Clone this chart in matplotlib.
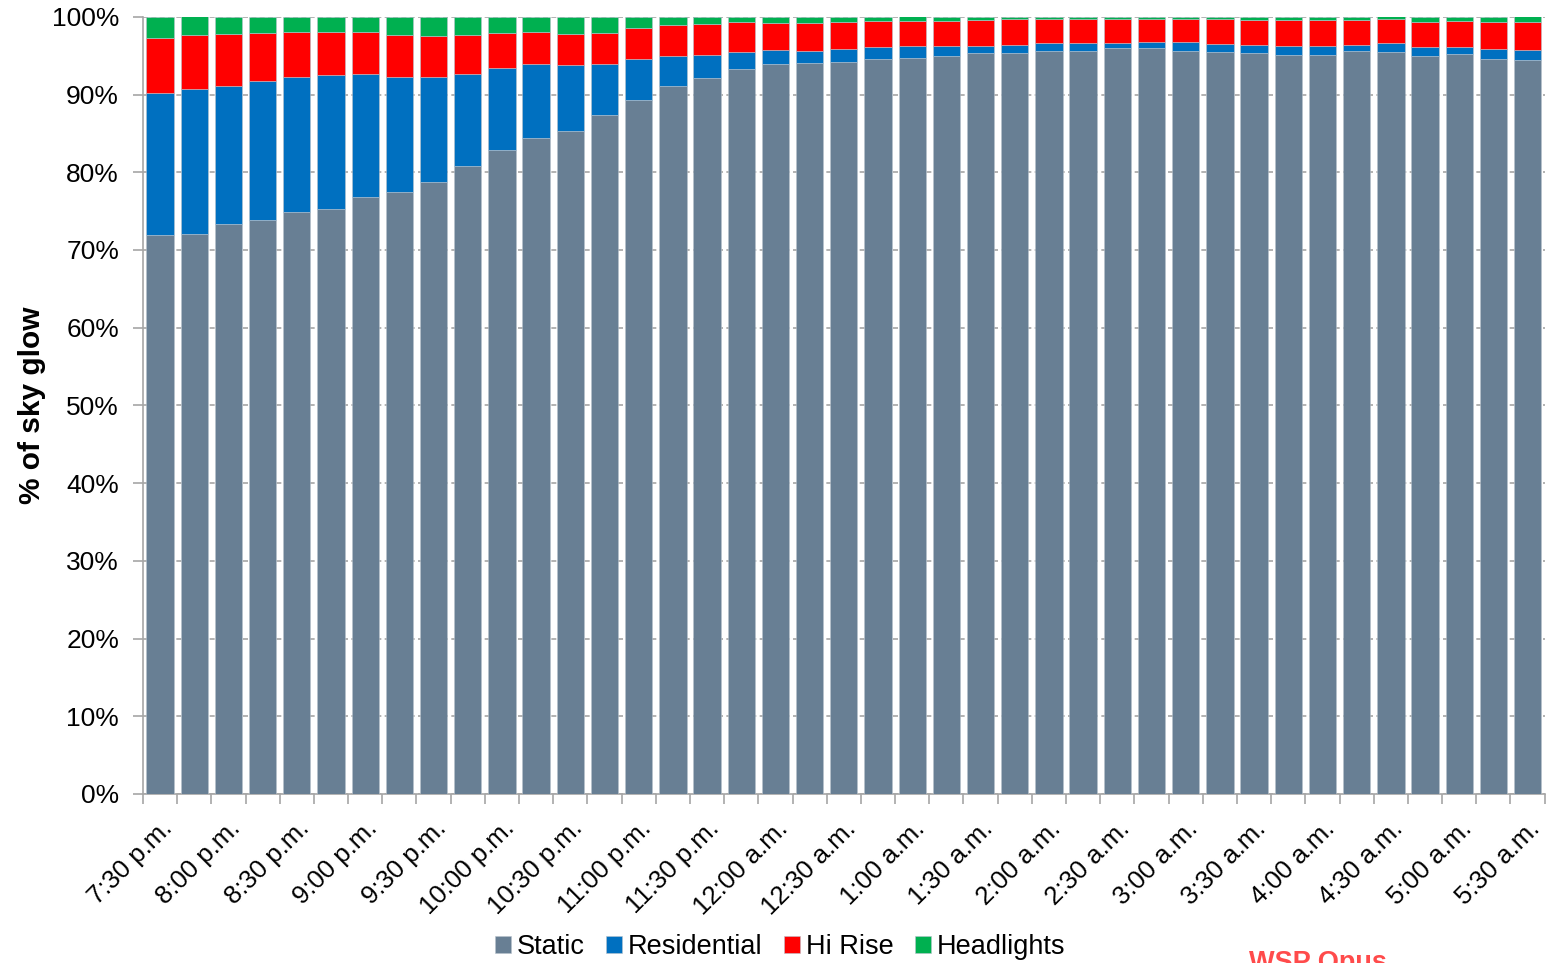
import matplotlib
matplotlib.use("Agg")
import matplotlib.pyplot as plt
import numpy as np

plt.rcParams['font.family'] = ['Liberation Sans', 'DejaVu Sans']

# quarter-hour samples, 7:30 p.m. to 5:30 a.m. (labels every half hour)
times = ["7:30 p.m.", "7:45 p.m.", "8:00 p.m.", "8:15 p.m.", "8:30 p.m.", "8:45 p.m.",
         "9:00 p.m.", "9:15 p.m.", "9:30 p.m.", "9:45 p.m.", "10:00 p.m.", "10:15 p.m.",
         "10:30 p.m.", "10:45 p.m.", "11:00 p.m.", "11:15 p.m.", "11:30 p.m.", "11:45 p.m.",
         "12:00 a.m.", "12:15 a.m.", "12:30 a.m.", "12:45 a.m.", "1:00 a.m.", "1:15 a.m.",
         "1:30 a.m.", "1:45 a.m.", "2:00 a.m.", "2:15 a.m.", "2:30 a.m.", "2:45 a.m.",
         "3:00 a.m.", "3:15 a.m.", "3:30 a.m.", "3:45 a.m.", "4:00 a.m.", "4:15 a.m.",
         "4:30 a.m.", "4:45 a.m.", "5:00 a.m.", "5:15 a.m.", "5:30 a.m."]

static = [71.9, 72.1, 73.4, 73.9, 74.9, 75.3, 76.8, 77.4, 78.7, 80.8, 82.9, 84.4,
          85.3, 87.4, 89.3, 91.1, 92.1, 93.3, 93.9, 94.0, 94.2, 94.6, 94.7, 94.9,
          95.3, 95.3, 95.6, 95.6, 96.0, 96.0, 95.6, 95.5, 95.3, 95.1, 95.1, 95.6,
          95.5, 94.9, 95.2, 94.6, 94.4]
residential = [18.3, 18.6, 17.7, 17.8, 17.3, 17.2, 15.9, 14.9, 13.5, 11.9, 10.5, 9.5,
               8.5, 6.5, 5.3, 3.9, 3.0, 2.2, 1.8, 1.6, 1.7, 1.5, 1.5, 1.3,
               1.0, 1.1, 1.0, 1.0, 0.6, 0.7, 1.1, 1.0, 1.1, 1.2, 1.2, 0.8,
               1.1, 1.2, 0.9, 1.3, 1.3]
hi_rise = [7.1, 7.0, 6.7, 6.2, 5.8, 5.6, 5.3, 5.4, 5.3, 5.0, 4.5, 4.1,
           4.0, 4.0, 4.0, 3.9, 4.0, 3.8, 3.5, 3.6, 3.4, 3.4, 3.3, 3.3,
           3.3, 3.3, 3.1, 3.1, 3.1, 3.0, 3.0, 3.2, 3.2, 3.3, 3.3, 3.2,
           3.1, 3.3, 3.4, 3.5, 3.6]
headlights = [2.7, 2.4, 2.2, 2.1, 2.0, 1.9, 2.0, 2.3, 2.5, 2.3, 2.1, 2.0,
              2.2, 2.1, 1.4, 1.1, 0.9, 0.7, 0.8, 0.8, 0.7, 0.5, 0.6, 0.5,
              0.4, 0.3, 0.3, 0.3, 0.3, 0.3, 0.3, 0.3, 0.4, 0.4, 0.4, 0.4,
              0.4, 0.6, 0.5, 0.6, 0.8]

series = [("Static", static, "#687f94"),
          ("Residential", residential, "#0070c0"),
          ("Hi Rise", hi_rise, "#ff0000"),
          ("Headlights", headlights, "#00b050")]

fig = plt.figure(figsize=(15.54, 9.63), dpi=100)
ax = fig.add_axes([0.092, 0.1755, 0.902, 0.807])

x = np.arange(len(times))
bottom = np.zeros(len(times))
for name, vals, col in series:
    vals = np.array(vals)
    ax.bar(x, vals, width=0.8, bottom=bottom, color=col, label=name,
           edgecolor="#b8c2cc", linewidth=0.4, zorder=3)
    bottom += vals

ax.set_xlim(-0.5, len(times) - 0.5)
ax.set_ylim(0, 100)

# y axis
ax.set_yticks(np.arange(0, 101, 10))
ax.set_yticklabels([f"{v}%" for v in range(0, 101, 10)], fontsize=19)
ax.yaxis.grid(True, color="#a6a6a6", linestyle=(0, (3, 2)), linewidth=1.2, zorder=0)
ax.tick_params(axis="y", length=7.2, width=1.2, color="#a6a6a6", pad=10)
ax.set_ylabel("% of sky glow", fontsize=21.5, fontweight="bold", labelpad=4)

# x axis: labels every half hour, tick marks between categories
ax.set_xticks(x[::2])
ax.set_xticklabels(times[::2], rotation=45, ha="right", rotation_mode="anchor",
                   fontsize=18.5)
ax.tick_params(axis="x", which="major", length=0, pad=16)
ax.set_xticks(np.arange(-0.5, len(times), 1), minor=True)
ax.tick_params(axis="x", which="minor", length=7, width=1.2, color="#a6a6a6")

for side in ["top", "right"]:
    ax.spines[side].set_visible(False)
for side in ["left", "bottom"]:
    ax.spines[side].set_color("#a6a6a6")
    ax.spines[side].set_linewidth(1.2)

fig.legend(loc="center", bbox_to_anchor=(0.502, 0.0166), ncol=4, frameon=False,
           fontsize=19.5, handlelength=0.6, handleheight=0.6, handletextpad=0.2,
           columnspacing=0.8, borderpad=0)

fig.text(0.804, 0.0135, "WSP Opus", color="#ff4b4b", fontsize=19.5,
         fontweight="bold", ha="left", va="top")

fig.savefig("out.png", dpi=100)
